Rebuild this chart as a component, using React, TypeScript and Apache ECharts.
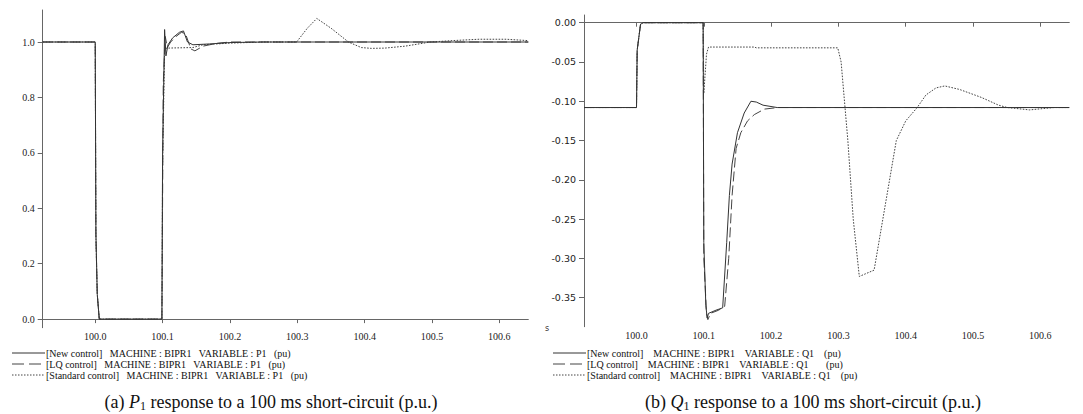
import React, { useEffect, useRef } from "react";
import * as echarts from "echarts";

// ---------- data ----------
const xTicks = [100.0, 100.1, 100.2, 100.3, 100.4, 100.5, 100.6];
const pTicks = [0.0, 0.2, 0.4, 0.6, 0.8, 1.0];
const qTicks = [0.0, -0.05, -0.1, -0.15, -0.2, -0.25, -0.3, -0.35];

const p1New: [number, number][] = [
  [99.922, 1.0], [100.0, 1.0], [100.001, 0.31], [100.003, 0.09], [100.006, 0.0],
  [100.099, 0.0], [100.1, 0.6], [100.103, 1.045], [100.105, 0.95], [100.108, 0.99],
  [100.115, 1.015], [100.125, 1.035], [100.131, 1.04], [100.137, 1.0], [100.145, 0.99],
  [100.17, 0.993], [100.2, 0.998], [100.25, 1.0], [100.643, 1.0],
];
const p1LQ: [number, number][] = [
  [99.922, 1.0], [100.0, 1.0], [100.001, 0.3], [100.003, 0.09], [100.006, 0.0],
  [100.099, 0.0], [100.101, 0.85], [100.104, 1.02], [100.107, 0.98], [100.112, 1.0],
  [100.12, 1.02], [100.128, 1.035], [100.134, 1.03], [100.142, 0.975], [100.148, 0.968],
  [100.16, 0.985], [100.18, 0.995], [100.2, 1.0], [100.643, 1.0],
];
const p1Std: [number, number][] = [
  [99.922, 1.0], [100.0, 1.0], [100.001, 0.3], [100.003, 0.09], [100.006, 0.0],
  [100.099, 0.0], [100.1, 0.55], [100.103, 0.97], [100.106, 0.978], [100.145, 0.98],
  [100.16, 0.99], [100.2, 0.996], [100.25, 1.0], [100.299, 1.0], [100.315, 1.05],
  [100.329, 1.085], [100.35, 1.05], [100.376, 1.0], [100.395, 0.98], [100.41, 0.977],
  [100.43, 0.978], [100.46, 0.985], [100.498, 1.0], [100.53, 1.005], [100.57, 1.01],
  [100.61, 1.01], [100.643, 1.005],
];

const q1New: [number, number][] = [
  [99.922, -0.108], [100.0, -0.108], [100.001, -0.035], [100.006, -0.002], [100.01, 0.0],
  [100.099, 0.0], [100.1, -0.28], [100.103, -0.36], [100.105, -0.376], [100.107, -0.37],
  [100.118, -0.366], [100.128, -0.363], [100.134, -0.28], [100.138, -0.22], [100.142, -0.18],
  [100.15, -0.14], [100.16, -0.115], [100.17, -0.1], [100.178, -0.101], [100.188, -0.105],
  [100.209, -0.108], [100.643, -0.108],
];
const q1LQ: [number, number][] = [
  [99.922, -0.108], [100.0, -0.108], [100.001, -0.035], [100.006, -0.002], [100.01, 0.0],
  [100.099, 0.0], [100.1, -0.3], [100.104, -0.37], [100.106, -0.378], [100.11, -0.37],
  [100.122, -0.366], [100.131, -0.361], [100.137, -0.3], [100.142, -0.22], [100.148, -0.16],
  [100.155, -0.14], [100.165, -0.125], [100.175, -0.117], [100.19, -0.11], [100.21, -0.108],
  [100.643, -0.108],
];
const q1Std: [number, number][] = [
  [99.922, -0.108], [100.0, -0.108], [100.001, -0.035], [100.006, -0.002], [100.01, 0.0],
  [100.099, 0.0], [100.1, -0.09], [100.104, -0.04], [100.107, -0.031], [100.175, -0.031],
  [100.178, -0.032], [100.299, -0.032], [100.304, -0.05], [100.314, -0.15], [100.322, -0.25],
  [100.331, -0.323], [100.353, -0.315], [100.366, -0.25], [100.386, -0.15], [100.4, -0.125],
  [100.417, -0.108], [100.43, -0.092], [100.445, -0.083], [100.458, -0.0805], [100.48, -0.085],
  [100.512, -0.095], [100.538, -0.105], [100.551, -0.108], [100.584, -0.111], [100.62, -0.108],
  [100.643, -0.108],
];

const seriesNames = ["New control", "LQ control", "Standard control"];
const legendTextP = [
  "[New control]   MACHINE : BIPR1   VARIABLE : P1   (pu)",
  "[LQ control]   MACHINE : BIPR1   VARIABLE : P1   (pu)",
  "[Standard control]   MACHINE : BIPR1   VARIABLE : P1   (pu)",
];
const legendTextQ = [
  "[New control]    MACHINE : BIPR1    VARIABLE : Q1    (pu)",
  "[LQ control]    MACHINE : BIPR1    VARIABLE : Q1       (pu)",
  "[Standard control]    MACHINE : BIPR1    VARIABLE : Q1    (pu)",
];

// ---------- styles ----------
const SERIF = "'Liberation Serif', 'DejaVu Serif', serif";
const SANS = "'DejaVu Sans', 'Liberation Sans', sans-serif";
const AXIS_COLOR = "#666";
const lineStyles = [
  { color: "#333", width: 1, type: "solid" as const },
  { color: "#444", width: 1, type: [10, 4] as any },
  { color: "#444", width: 1, type: [1.6, 1.4] as any },
];

function makeLegend(x0: number, rows: string[]) {
  const ys = [353, 364, 375];
  const els: any[] = [];
  rows.forEach((txt, i) => {
    const ls = lineStyles[i];
    els.push({
      type: "line",
      shape: { x1: x0, y1: ys[i], x2: x0 + 33, y2: ys[i] },
      style: { stroke: ls.color, lineWidth: 1, lineDash: i === 0 ? null : i === 1 ? [12, 5] : [1.5, 1.5] },
      silent: true,
    });
    els.push({
      type: "text",
      x: x0 + 34,
      y: ys[i],
      style: { text: txt, font: `10px ${SERIF}`, fill: "#111", textVerticalAlign: "middle" },
      silent: true,
    });
  });
  return els;
}

function caption(cx: number, tag: string, v: string) {
  return {
    type: "text",
    x: cx,
    y: 402,
    style: {
      text: `{n|(${tag}) }{i|${v}}{s|1}{n| response to a 100 ms short-circuit (p.u.)}`,
      rich: {
        n: { fontFamily: SERIF, fontSize: 18, fill: "#111" },
        i: { fontFamily: SERIF, fontSize: 18, fontStyle: "italic", fill: "#111" },
        s: { fontFamily: SERIF, fontSize: 12, fill: "#111", padding: [8, 0, 0, 0] },
      },
      textAlign: "center",
      textVerticalAlign: "middle",
    },
    silent: true,
  };
}

function xAxisDef(gridIndex: number) {
  return {
    type: "value",
    gridIndex,
    min: 99.922,
    max: 100.643,
    axisLine: { show: true, lineStyle: { color: AXIS_COLOR, width: 1 } },
    axisTick: { show: true, customValues: xTicks, length: 4, lineStyle: { color: AXIS_COLOR } },
    axisLabel: {
      customValues: xTicks,
      formatter: (v: number) => v.toFixed(1),
      fontFamily: SERIF,
      fontSize: 10,
      color: "#222",
      margin: 4,
    },
    splitLine: { show: false },
  };
}

export default function App() {
  const ref = useRef<HTMLDivElement>(null);
  useEffect(() => {
    document.body.style.margin = "0";
    const chart = echarts.init(ref.current!, null, { renderer: "svg" });
    const mk = (name: string, data: [number, number][], idx: number, k: number) => ({
      name,
      type: "line",
      xAxisIndex: idx,
      yAxisIndex: idx,
      data,
      symbol: "none",
      showSymbol: false,
      smooth: false,
      lineStyle: lineStyles[k],
      z: 3 - k,
    });
    chart.setOption({
      animation: false,
      backgroundColor: "#fff",
      grid: [
        { left: 42.7, top: 10, width: 485.6, height: 317.7 },
        { left: 584, top: 15, width: 485.3, height: 311.7 },
      ],
      xAxis: [xAxisDef(0), xAxisDef(1)],
      yAxis: [
        {
          type: "value",
          gridIndex: 0,
          min: -0.031,
          max: 1.1155,
          axisLine: { show: true, lineStyle: { color: AXIS_COLOR, width: 1 } },
          axisTick: { show: true, customValues: pTicks, length: 5, lineStyle: { color: AXIS_COLOR } },
          axisLabel: {
            customValues: pTicks,
            formatter: (v: number) => v.toFixed(1),
            fontFamily: SERIF,
            fontSize: 10,
            color: "#222",
            margin: 8,
          },
          splitLine: { show: false },
        },
        {
          type: "value",
          gridIndex: 1,
          min: -0.387,
          max: 0.0098,
          axisLine: { show: true, lineStyle: { color: AXIS_COLOR, width: 1 } },
          axisTick: { show: true, customValues: qTicks, length: 5, lineStyle: { color: AXIS_COLOR } },
          axisLabel: {
            customValues: qTicks,
            formatter: (v: number) => v.toFixed(2),
            fontFamily: SANS,
            fontSize: 9.5,
            color: "#222",
            margin: 8,
          },
          splitLine: { show: false },
        },
      ],
      series: [
        mk(seriesNames[0], p1New, 0, 0),
        mk(seriesNames[1], p1LQ, 0, 1),
        mk(seriesNames[2], p1Std, 0, 2),
        mk(seriesNames[0], q1New, 1, 0),
        mk(seriesNames[1], q1LQ, 1, 1),
        mk(seriesNames[2], q1Std, 1, 2),
      ],
      graphic: [
        ...makeLegend(12, legendTextP),
        ...makeLegend(553, legendTextQ),
        {
          type: "text",
          x: 547,
          y: 328,
          style: { text: "s", font: `8px ${SANS}`, fill: "#333", textAlign: "center", textVerticalAlign: "middle" },
          silent: true,
        },
        caption(271, "a", "P"),
        caption(813, "b", "Q"),
      ],
    });
    return () => chart.dispose();
  }, []);
  return <div ref={ref} style={{ width: 1083, height: 414, position: "absolute", left: 0, top: 0 }} />;
}
